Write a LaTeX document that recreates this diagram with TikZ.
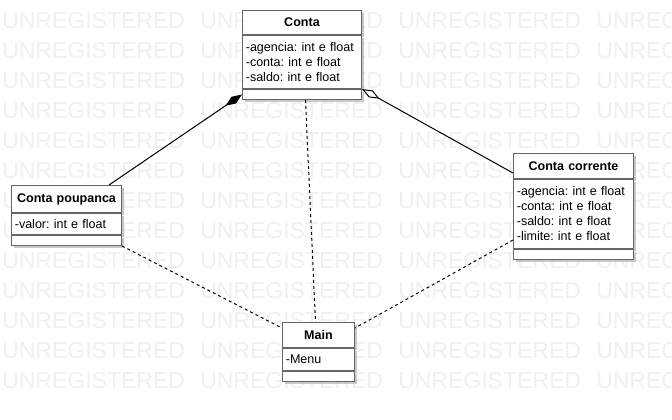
\documentclass[tikz,border=0pt]{standalone}
\usepackage{fontspec}
\setmainfont{Liberation Sans}
\usepackage{tikz}
\usetikzlibrary{positioning,arrows.meta,shadows}
\definecolor{boxgray}{HTML}{666666}
\definecolor{wmgray}{HTML}{F0F0F0}
\frenchspacing

\begin{document}
\begin{tikzpicture}[x=0.75pt,y=-0.75pt,
            part/.style={rectangle,draw=boxgray,fill=white,line width=0.75pt,
                inner xsep=2.5pt,inner ysep=0pt,text width=#1,
                font=\fontsize{9.4}{11.25}\selectfont,
                drop shadow={shadow xshift=1.5pt,shadow yshift=-1.5pt,fill=black!35,opacity=0.6}},
            title/.style={part=#1,align=center,font=\fontsize{9.4}{11.25}\selectfont\bfseries,anchor=north west},
            attrs/.style={part=#1,align=left},
            wmark/.style={inner sep=0pt,text=wmgray,font=\fontsize{17.25}{17.25}\selectfont,anchor=base west},
            composition/.style={line width=0.75pt,{Diamond[length=15pt,width=6pt]}-{}},
            aggregation/.style={line width=0.75pt,{Diamond[open,fill=white,length=15pt,width=6pt]}-{}},
            dep/.style={line width=0.75pt,dash pattern=on 2.25pt off 2.25pt}]

        \useasboundingbox (0,0) rectangle (672,419);
        \fill [white] (0,0) rectangle (672,419);

        \begin{scope}
            \clip (0,0) rectangle (672,419);
            \foreach \r in {0,...,12}
                \foreach \c in {0,...,3}
                    \node [wmark] (wm\r-\c) at ({2+198*\c}, {28+30*\r}) {UNREGISTERED};
        \end{scope}

        \node [title=84.25pt, minimum height=18pt] at (242, 10) (contatitle) {Conta};
        \node [attrs=84.25pt, minimum height=39.75pt, below=0pt of contatitle] (contaattr)
            {-agencia: int e float\\-conta: int e float\\-saldo: int e float};
        \node [attrs=84.25pt, minimum height=7.5pt, below=0pt of contaattr] (contameth) {};

        \node [title=77.5pt, minimum height=20.25pt] at (11, 185) (pptitle) {Conta poupanca};
        \node [attrs=77.5pt, minimum height=15.75pt, below=0pt of pptitle] (ppattr)
            {-valor: int e float};
        \node [attrs=77.5pt, minimum height=7.5pt, below=0pt of ppattr] (ppmeth) {};

        \node [title=85pt, minimum height=18.75pt] at (513, 153) (cctitle) {Conta corrente};
        \node [attrs=85pt, minimum height=51.75pt, below=0pt of cctitle] (ccattr)
            {-agencia: int e float\\-conta: int e float\\-saldo: int e float\\-limite: int e float};
        \node [attrs=85pt, minimum height=7.5pt, below=0pt of ccattr] (ccmeth) {};

        \node [title=49pt, minimum height=18.75pt] at (282, 322) (maintitle) {Main};
        \node [attrs=49pt, minimum height=16.5pt, below=0pt of maintitle] (mainattr)
            {-Menu};
        \node [attrs=49pt, minimum height=7.5pt, below=0pt of mainattr] (mainmeth) {};

        \draw [composition] (contameth.west) -- ([xshift=-9.75pt]pptitle.north east);
        \draw [aggregation] (contaattr.south east) -- ([yshift=4.5pt]cctitle.south west);
        \draw [dep] ([xshift=2.6pt]contameth.south) -- ([xshift=-2.25pt]maintitle.north);
        \draw [dep] (ppmeth.south east) -- ([yshift=-4.5pt]maintitle.north west);
        \draw [dep] ([yshift=6.75pt]ccattr.south west) -- ([yshift=-4.5pt]maintitle.north east);

    \end{tikzpicture}
\end{document}
